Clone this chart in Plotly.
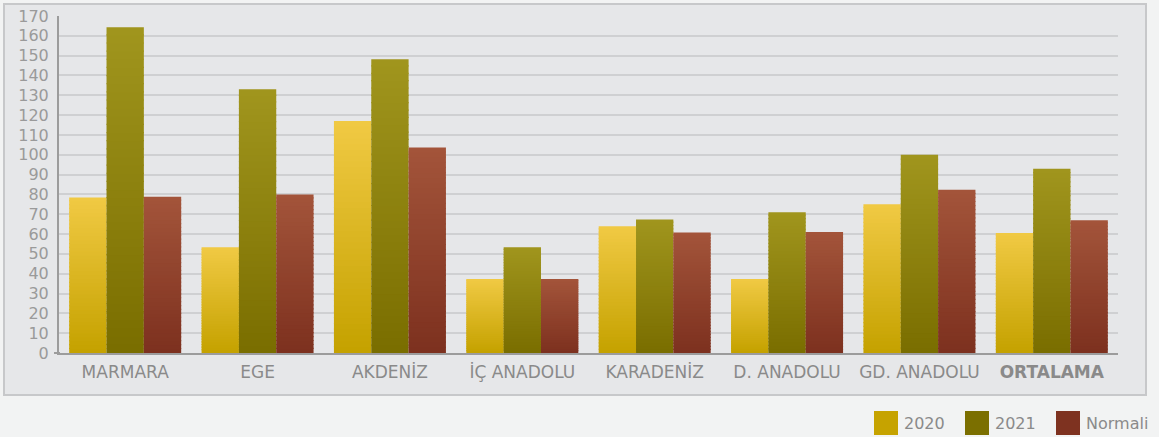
import plotly.graph_objects as go

categories = ["MARMARA", "EGE", "AKDENİZ", "İÇ ANADOLU", "KARADENİZ", "D. ANADOLU", "GD. ANADOLU", "ORTALAMA"]
values_2020 = [78.5, 53.3, 117, 37.3, 63.9, 37.3, 75, 60.5]
values_2021 = [164.3, 133, 148.2, 53.3, 67.4, 71, 100, 93]
values_normal = [78.8, 80, 103.7, 37.3, 60.8, 61, 82.3, 67]
series_names = ["2020", "2021", "Normali"]
y_ticks = list(range(0, 171, 10))

W, H = 1159, 437
L, R, T, B = 59, 41, 16, 84
PW, PH = W - L - R, H - T - B

grad = {
    "2020": ("#f0c943", "#c5a200"),
    "2021": ("#a0951d", "#7a6e00"),
    "Normali": ("#a3543a", "#7d311f"),
}
legend_col = {"2020": "#c6a300", "2021": "#7b6f00", "Normali": "#7e3220"}


def hex2rgb(h):
    h = h.lstrip("#")
    return [int(h[i:i + 2], 16) for i in (0, 2, 4)]


def mix(a, b, t):
    ca, cb = hex2rgb(a), hex2rgb(b)
    return "rgb(%d,%d,%d)" % tuple(round(ca[i] + (cb[i] - ca[i]) * t) for i in range(3))


fig = go.Figure()
N = 40
bw = 0.282
offsets = [-1.5 * bw, -0.5 * bw, 0.5 * bw]
display_x = [c if c != "ORTALAMA" else "<b>ORTALAMA</b>" for c in categories]
for name, vals, off in zip(series_names, [values_2020, values_2021, values_normal], offsets):
    top, bot = grad[name]
    # vertical gradient: stacked thin bands, bottom (dark) to top (light)
    for k in range(N):
        lo = [v * k / N for v in vals]
        hi = [v * (k + 1) / N for v in vals]
        ext = [min(h + 0.6, v) for h, v in zip(hi, vals)]  # slight overlap hides seams
        fig.add_trace(go.Bar(
            x=display_x, y=[e - l for e, l in zip(ext, lo)], base=lo,
            offset=off, width=bw,
            marker=dict(color=mix(bot, top, k / (N - 1)), line=dict(width=0)),
            showlegend=False, hoverinfo="skip", name=name,
        ))

font = "DejaVu Sans, sans-serif"
fig.update_layout(
    width=W, height=H, barmode="overlay",
    margin=dict(l=L, r=R, t=T, b=B, autoexpand=False),
    paper_bgcolor="#f2f3f3", plot_bgcolor="rgba(0,0,0,0)",
    font=dict(family=font, color="#8c8c8c"),
    xaxis=dict(showgrid=False, showline=True, linecolor="#9c9c9c", linewidth=2,
               tickfont=dict(size=17, color="#8a8a8a"), ticks="", ticklabelstandoff=3,
               automargin=False),
    yaxis=dict(range=[0, 170], tickvals=y_ticks, showgrid=True, gridcolor="#cfd0d2",
               gridwidth=2, showline=True, linecolor="#9c9c9c", linewidth=2,
               zeroline=False, tickfont=dict(size=16, color="#9a9a9a"), ticks="",
               ticklabelstandoff=5, automargin=False),
)


def px_x(px):
    return (px - L) / PW


def px_y(py):
    return (H - B - py) / PH


# outer box
fig.add_shape(type="rect", xref="paper", yref="paper", layer="below",
              x0=px_x(4), x1=px_x(1146), y0=px_y(395), y1=px_y(4),
              fillcolor="#e6e7e9", line=dict(color="#c7c8ca", width=2))
# zero line extension
fig.add_shape(type="line", xref="paper", yref="paper",
              x0=px_x(54), x1=px_x(60), y0=0, y1=0,
              line=dict(color="#9c9c9c", width=2))

# legend
leg_sq = [874, 965, 1056]
for name, sx in zip(series_names, leg_sq):
    fig.add_shape(type="rect", xref="paper", yref="paper",
                  x0=px_x(sx), x1=px_x(sx + 24), y0=px_y(435), y1=px_y(411),
                  fillcolor=legend_col[name], line=dict(width=0))
    fig.add_annotation(xref="paper", yref="paper", x=px_x(sx + 28), y=px_y(423),
                       text=name, showarrow=False, xanchor="left", yanchor="middle",
                       font=dict(size=16, color="#8a8a8a", family=font))

fig.write_html("out.html", config={"displayModeBar": False},
               post_script="document.body.style.margin='0px';document.body.style.overflow='hidden';")
